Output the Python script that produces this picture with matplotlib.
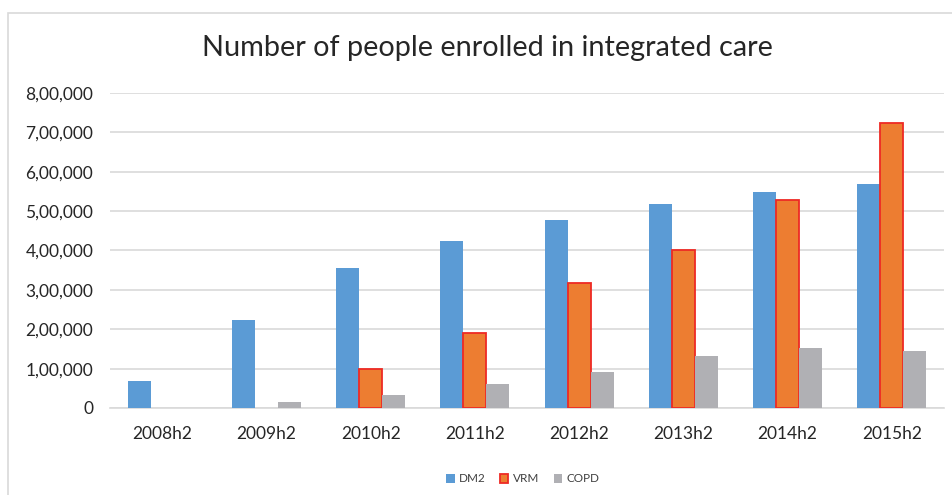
import numpy as np
import matplotlib.pyplot as plt
from matplotlib.patches import Rectangle
from matplotlib.ticker import FuncFormatter

plt.rcParams['font.family'] = ['Lato', 'DejaVu Sans']

periods = ['2008h2', '2009h2', '2010h2', '2011h2', '2012h2', '2013h2', '2014h2', '2015h2']
dm2 = [68500, 223000, 355000, 424000, 477000, 518000, 548000, 570000]
vrm = [0, 0, 100000, 191000, 318000, 400000, 529000, 725000]
copd = [0, 14000, 32000, 60000, 91000, 132000, 152000, 146000]


def indian_format(v, pos):
    # lakh style grouping: 8,00,000
    v = int(round(v))
    if v == 0:
        return '0'
    s = str(v)
    last3, rest = s[-3:], s[:-3]
    parts = []
    while len(rest) > 2:
        parts.insert(0, rest[-2:])
        rest = rest[:-2]
    if rest:
        parts.insert(0, rest)
    return ','.join(parts + [last3])


fig = plt.figure(figsize=(9.53, 4.95), dpi=100)
ax = fig.add_axes([110 / 953, 1 - 408 / 495, (944 - 110) / 953, 315 / 495])

# chart border
fig.patches.append(Rectangle((8.5 / 953, -0.01), 1.0, 1 - 13 / 495 + 0.01,
                             transform=fig.transFigure, fill=False,
                             edgecolor='#d9d9d9', linewidth=1.2))

x = np.arange(len(periods))
w = 0.22
ax.bar(x - w, dm2, w, color='#5b9bd5', label='DM2', zorder=3)
# no outline on empty bars
vrm_lw = [1.3 if v > 0 else 0 for v in vrm]
ax.bar(x, vrm, w, color='#ed7d31', edgecolor='#ee2a24', linewidth=vrm_lw,
       label='VRM', zorder=3)
ax.bar(x + w, copd, w, color='#b0b0b4', label='COPD', zorder=3)

ax.set_xlim(-0.5, len(periods) - 0.5)
ax.set_ylim(0, 800000)
ax.set_yticks(np.arange(0, 800001, 100000))
ax.yaxis.set_major_formatter(FuncFormatter(indian_format))
ax.set_xticks(x)
ax.set_xticklabels(periods)

ax.grid(axis='y', color='#d9d9d9', linewidth=1.2, zorder=0)
for s in ['top', 'right', 'left']:
    ax.spines[s].set_visible(False)
ax.spines['bottom'].set_color('#d9d9d9')
ax.spines['bottom'].set_linewidth(1.2)
ax.tick_params(length=0, labelsize=12.5, colors='#262626')
ax.tick_params(axis='x', pad=13)
ax.tick_params(axis='y', pad=12)

fig.text(487 / 953, 1 - 48 / 495, 'Number of people enrolled in integrated care',
         ha='center', va='center', fontsize=20.8, color='#262626')

leg = fig.legend(loc='center', bbox_to_anchor=(523 / 953, 1 - 479 / 495), ncol=3,
                 frameon=False, fontsize=8.5, handlelength=0.7, handleheight=0.7,
                 handletextpad=0.4, columnspacing=1.2, labelcolor='#404040')
leg.legend_handles[1].set_linewidth(1.3)

fig.savefig('out.png', dpi=100)
